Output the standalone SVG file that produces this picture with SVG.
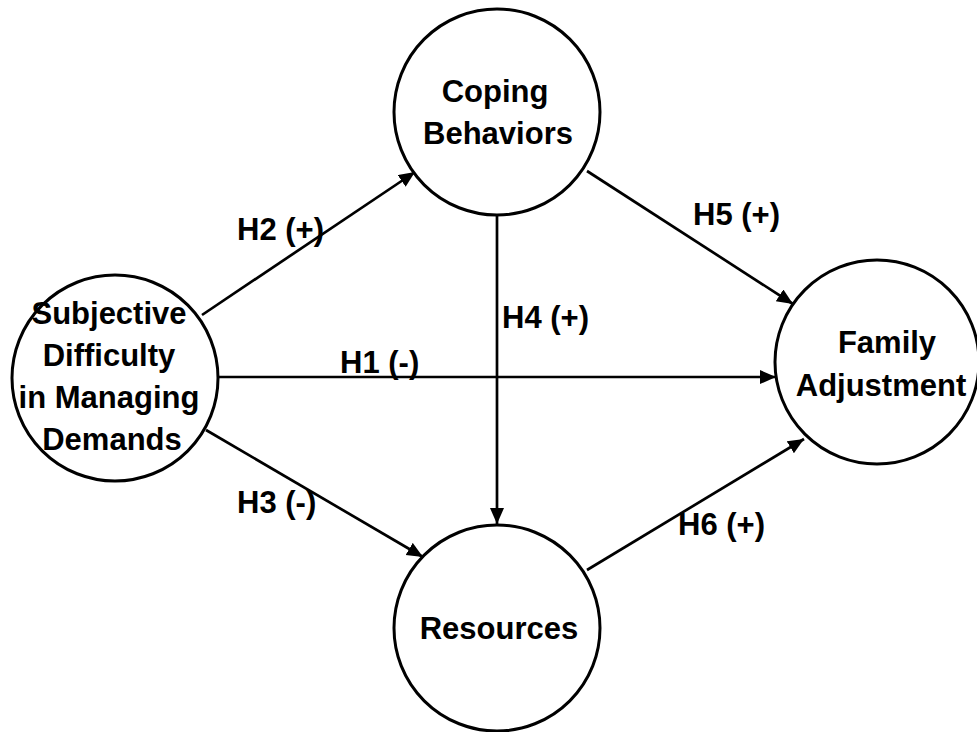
<svg xmlns="http://www.w3.org/2000/svg" width="977" height="732" viewBox="0 0 977 732">
<style>
.node{fill:#fff;stroke:#000;stroke-width:3}
.lbl{font-family:"Liberation Sans",Arial,sans-serif;font-weight:bold;font-size:31px;fill:#000}
.mid{text-anchor:middle}
.edge{stroke:#000;stroke-width:2.7;fill:none}
</style>
<defs>
<marker id="arr" markerUnits="userSpaceOnUse" markerWidth="18" markerHeight="16" refX="16" refY="7" orient="auto">
<path d="M0,0 L16,7 L0,14 z" fill="#000"/>
</marker>
</defs>
<rect width="977" height="732" fill="#fff"/>
<g id="connectors">
<line class="edge" x1="202" y1="315" x2="415" y2="172" marker-end="url(#arr)"/>
<line class="edge" x1="587" y1="171" x2="793" y2="304" marker-end="url(#arr)"/>
<line class="edge" x1="206" y1="430" x2="423" y2="557" marker-end="url(#arr)"/>
<line class="edge" x1="587" y1="570" x2="804" y2="439" marker-end="url(#arr)"/>
<line class="edge" x1="497" y1="216" x2="497" y2="524" marker-end="url(#arr)"/>
<line class="edge" x1="218" y1="377" x2="776" y2="377" marker-end="url(#arr)"/>
<text class="lbl" x="237" y="240">H2 (+)</text>
<text class="lbl" x="693" y="225">H5 (+)</text>
<text class="lbl" x="340" y="373">H1 (-)</text>
<text class="lbl" x="502" y="328">H4 (+)</text>
<text class="lbl" x="237" y="513">H3 (-)</text>
<text class="lbl" x="678" y="535">H6 (+)</text>
</g>
<g id="coping">
<circle class="node" cx="497" cy="112" r="103"/>
<text class="lbl mid" x="495" y="102">Coping</text>
<text class="lbl mid" x="498" y="144">Behaviors</text>
</g>
<g id="subjective">
<circle class="node" cx="115" cy="378" r="103"/>
<text class="lbl mid" x="109" y="324">Subjective</text>
<text class="lbl mid" x="109" y="366">Difficulty</text>
<text class="lbl mid" x="109" y="408">in Managing</text>
<text class="lbl mid" x="112" y="450">Demands</text>
</g>
<g id="family">
<circle class="node" cx="877" cy="362" r="102"/>
<text class="lbl mid" x="887" y="353">Family</text>
<text class="lbl mid" x="881" y="396">Adjustment</text>
</g>
<g id="resources">
<circle class="node" cx="497" cy="628" r="103"/>
<text class="lbl mid" x="499" y="639">Resources</text>
</g>
</svg>
